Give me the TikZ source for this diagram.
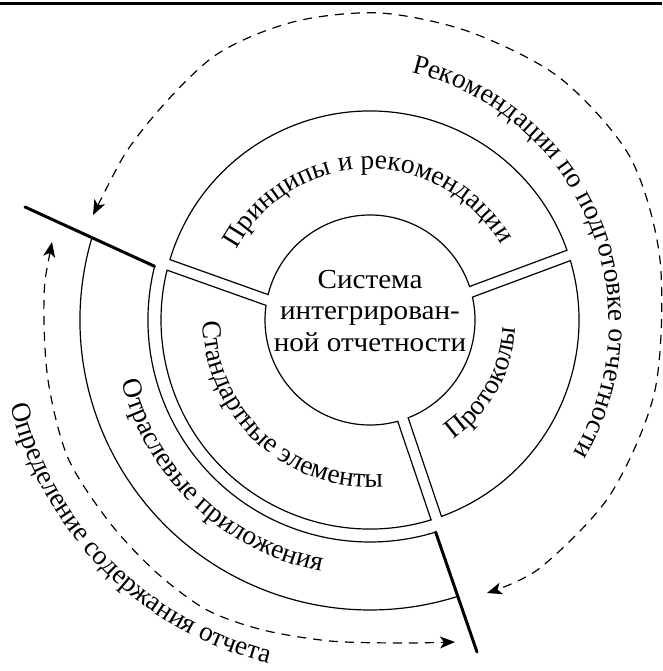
\documentclass[tikz,border=0pt]{standalone}
\usepackage{fontspec}
\setmainfont{Liberation Serif}
\newfontfamily\ctrfont{Liberation Serif}[FakeStretch=1.06]
\usetikzlibrary{decorations.text,arrows.meta,calc}
\newcommand\lblfont{\fontsize{27.5}{30}\selectfont}
\begin{document}
\begin{tikzpicture}[x=1pt,y=1pt,
  thinl/.style={line width=1.2pt},
  thickl/.style={line width=3pt, line cap=round},
  dashl/.style={line width=1.2pt, dash pattern=on 9pt off 7pt,
    {Stealth[length=15pt,width=12pt,inset=4pt]}-{Stealth[length=15pt,width=12pt,inset=4pt]}},
  arclabel/.style={decorate, decoration={text along path, text align=center, text={|\lblfont|#1}}}
]
\useasboundingbox (0,0) rectangle (662,-671);
\coordinate (C) at (370,-320);
\coordinate (D) at (351,-323);
% top rule
\coordinate (r1) at (0,-3.5);
\coordinate (r2) at (662,-3.5);
\draw[line width=3.5pt] (r1) -- (r2);

% inner segments
\draw[thinl] ([shift={(18.6:105pt)}]C) arc[start angle=18.6,end angle=166,radius=105pt]
  -- ([shift={(163.2:209pt)}]C) arc[start angle=163.2,end angle=19.5,radius=209pt] -- cycle;
\draw[thinl] ([shift={(172:105pt)}]C) arc[start angle=172,end angle=285.3,radius=105pt]
  -- ([shift={(287:209pt)}]C) arc[start angle=287,end angle=166.2,radius=209pt] -- cycle;
\draw[thinl] ([shift={(291.3:105pt)}]C) arc[start angle=291.3,end angle=372.6,radius=105pt]
  -- ([shift={(376.5:209pt)}]C) arc[start angle=376.5,end angle=290,radius=209pt] -- cycle;

% outer ring
\coordinate (a1) at ([shift={(166:222pt)}]C);
\coordinate (a2) at ([shift={(287.2:222pt)}]C);
\coordinate (tlend) at (25,-207);
\coordinate (brend) at (477,-652);
\draw[thinl] (a1) arc[start angle=166,end angle=287.2,radius=222pt];
\draw[thinl] ([shift={(163.5:290pt)}]C) arc[start angle=163.5,end angle=287.6,radius=290pt];
\draw[thickl] (tlend) -- (a1);
\draw[thickl] (a2) -- (brend);

% dashed arcs
\draw[dashl] plot[smooth] coordinates {(93,-215) (140,-133) (213,-57) (293,-22) (380,-13) (470,-32) (560,-78) (630,-157) (660,-260) (655,-390) (610,-495) (540,-568) (487,-593)};
\draw[dashl] plot[smooth] coordinates {(52,-242) (44,-300) (48,-380) (68,-458) (110,-523) (157,-573) (207,-610) (263,-630) (330,-641) (400,-643) (455,-642)};

% center text
\node[align=center, font=\ctrfont\fontsize{27.5}{31.5}\selectfont] (sys) at (370,-311) {Система\\интегрирован-\\ной отчетности};

% curved labels
\path[arclabel={Принципы и рекомендации}] ([shift={(170:151pt)}]C) arc[start angle=170,end angle=12,radius=151pt];
\path[arclabel={Протоколы}] ([shift={(-79:146pt)}]C) arc[start angle=-79,end angle=21,radius=146pt];
\path[arclabel={Стандартные элементы}] ([shift={(165:167pt)}]C) arc[start angle=165,end angle=290,radius=167pt];
\path[arclabel={Отраслевые приложения}] ([shift={(176:256pt)}]C) arc[start angle=176,end angle=277,radius=256pt];
\path[arclabel={Определение содержания отчета}] ([shift={(181:350pt)}]D) arc[start angle=181,end angle=269,radius=350pt];
\path[arclabel={Рекомендации по подготовке отчетности}] ([shift={(92:258pt)}]D) arc[start angle=92,end angle=-46,radius=258pt];
\end{tikzpicture}
\end{document}
